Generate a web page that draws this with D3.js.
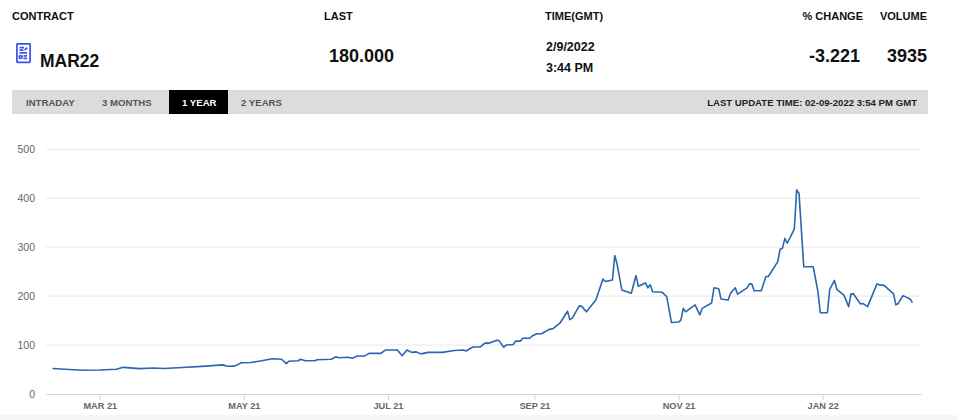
<!DOCTYPE html>
<html>
<head>
<meta charset="utf-8">
<script src="https://cdn.jsdelivr.net/npm/d3@7"></script>
<style>
  body { margin: 0; background: #fff; }
  svg { display: block; font-family: "Liberation Sans", Arial, sans-serif; }
</style>
</head>
<body>
<script>
// header values
var headLabels = ["CONTRACT", "LAST", "TIME(GMT)", "% CHANGE", "VOLUME"];
var contract = "MAR22";
var lastPrice = "180.000";
var timeLines = ["2/9/2022", "3:44 PM"];
var pctChange = "-3.221";
var volume = "3935";
var tabs = ["INTRADAY", "3 MONTHS", "1 YEAR", "2 YEARS"];
var activeTab = "1 YEAR";
var updateText = "LAST UPDATE TIME: 02-09-2022 3:54 PM GMT";

// price series
var dates = [
  "2021-02-09","2021-02-16","2021-02-22","2021-03-01","2021-03-08","2021-03-11","2021-03-18","2021-03-24",
  "2021-03-28","2021-04-05","2021-04-15","2021-04-22","2021-04-24","2021-04-27","2021-04-30","2021-05-04",
  "2021-05-08","2021-05-13","2021-05-17","2021-05-19","2021-05-20","2021-05-24","2021-05-25","2021-05-27",
  "2021-05-31","2021-06-01","2021-06-07","2021-06-09","2021-06-10","2021-06-14","2021-06-16","2021-06-18",
  "2021-06-21","2021-06-23","2021-06-28","2021-06-30","2021-07-05","2021-07-07","2021-07-09","2021-07-11",
  "2021-07-13","2021-07-15","2021-07-18","2021-07-24","2021-07-29","2021-08-02","2021-08-03","2021-08-06",
  "2021-08-09","2021-08-11","2021-08-13","2021-08-16","2021-08-17","2021-08-19","2021-08-20","2021-08-23",
  "2021-08-24","2021-08-26","2021-08-27","2021-08-30","2021-08-31","2021-09-02","2021-09-04","2021-09-07",
  "2021-09-09","2021-09-12","2021-09-15","2021-09-16","2021-09-17","2021-09-20","2021-09-21","2021-09-23",
  "2021-09-27","2021-09-30","2021-10-01","2021-10-04","2021-10-05","2021-10-06","2021-10-08","2021-10-12",
  "2021-10-14","2021-10-15","2021-10-18","2021-10-19","2021-10-20","2021-10-21","2021-10-25","2021-10-27",
  "2021-10-29","2021-11-01","2021-11-02","2021-11-03","2021-11-04","2021-11-08","2021-11-10","2021-11-11",
  "2021-11-15","2021-11-16","2021-11-18","2021-11-19","2021-11-22","2021-11-23","2021-11-25","2021-11-26",
  "2021-11-30","2021-12-01","2021-12-02","2021-12-03","2021-12-06","2021-12-08","2021-12-09","2021-12-13",
  "2021-12-14","2021-12-15","2021-12-16","2021-12-17","2021-12-20","2021-12-21","2021-12-22","2021-12-24",
  "2021-12-28","2021-12-30","2021-12-31","2022-01-03","2022-01-04","2022-01-06","2022-01-07","2022-01-10",
  "2022-01-12","2022-01-13","2022-01-14","2022-01-17","2022-01-18","2022-01-20","2022-01-24","2022-01-25",
  "2022-01-27","2022-01-31","2022-02-01","2022-02-02","2022-02-04","2022-02-07","2022-02-08"
];
var prices = [
  52, 50, 48.5, 49, 50.5, 54.5, 51.8, 53,
  52, 54, 57, 59.5, 56.6, 57, 64, 64.5,
  67.5, 72, 71, 62, 67, 68, 71, 68,
  68, 70, 71, 76, 74, 75, 73, 77.5,
  77.5, 83, 83, 90, 90, 78, 90, 85,
  86, 82, 85, 85, 89, 90, 88, 96,
  96, 104, 104, 110, 109, 95.5, 100, 101,
  108, 108, 114, 114, 118.6, 123, 123, 131.5,
  134, 146, 169, 152, 155, 180, 179, 168,
  192, 235, 230, 233, 283, 265, 212.7, 206,
  242, 220, 227, 217, 223, 209, 208, 199,
  146, 147, 151, 175, 168, 182, 161.5, 175,
  186, 217, 215, 194, 192, 206, 217, 204,
  217, 225, 225, 211, 211, 240, 240, 270.6,
  296, 298, 318, 308, 337, 417, 410, 260,
  260, 209, 166, 166, 214, 232, 214, 202,
  178.5, 204.5, 205, 184, 185, 178.5, 225, 223,
  222, 204.5, 182, 185, 201, 194, 186.7
];
var yTicks = [0, 100, 200, 300, 400, 500];

var W = 958, H = 420;
var svg = d3.select("body").append("svg").attr("width", W).attr("height", H);

// ---- header ----
var headX = [12, 324, 545, 863, 927];
svg.selectAll("text.head").data(headLabels).enter().append("text")
  .attr("class", "head")
  .attr("x", function(d, i) { return headX[i]; })
  .attr("y", 20)
  .attr("text-anchor", function(d, i) { return i >= 3 ? "end" : "start"; })
  .attr("font-size", "11px").attr("font-weight", "bold").attr("fill", "#111")
  .text(function(d) { return d; });

// contract icon
var icon = svg.append("g").attr("transform", "translate(16,43)")
  .attr("fill", "none").attr("stroke", "#3b52ea").attr("stroke-width", 1.7);
icon.append("rect").attr("x", 0.9).attr("y", 0.9).attr("width", 13.2).attr("height", 18.4).attr("rx", 0.6);
icon.append("path").attr("d", "M3.6 4.6H8 M3.6 7.2H7.4 M3.6 9.8H11 M8.6 7.2L11.2 4.6 M7.4 12.8H11 M7.4 15.4H11");
icon.append("circle").attr("cx", 4.6).attr("cy", 14.1).attr("r", 1.4);

svg.append("text").attr("x", 40).attr("y", 67)
  .attr("font-size", "17.5px").attr("font-weight", "bold").attr("fill", "#111").text(contract);
svg.append("text").attr("x", 329).attr("y", 62)
  .attr("font-size", "18px").attr("font-weight", "bold").attr("fill", "#111").text(lastPrice);
svg.selectAll("text.time").data(timeLines).enter().append("text")
  .attr("class", "time").attr("x", 546)
  .attr("y", function(d, i) { return 50.5 + i * 21; })
  .attr("font-size", "12.5px").attr("font-weight", "bold").attr("fill", "#111")
  .text(function(d) { return d; });
svg.append("text").attr("x", 860).attr("y", 62).attr("text-anchor", "end")
  .attr("font-size", "18px").attr("font-weight", "bold").attr("fill", "#111").text(pctChange);
svg.append("text").attr("x", 927).attr("y", 62).attr("text-anchor", "end")
  .attr("font-size", "18px").attr("font-weight", "bold").attr("fill", "#111").text(volume);

// ---- tab bar ----
var tabX = [26, 102, 182, 241];
svg.append("rect").attr("x", 12).attr("y", 90).attr("width", 916).attr("height", 24).attr("fill", "#dcdcdd");
svg.append("rect").attr("x", 169).attr("y", 90).attr("width", 59).attr("height", 24).attr("fill", "#000");
svg.selectAll("text.tab").data(tabs).enter().append("text")
  .attr("class", "tab")
  .attr("x", function(d, i) { return tabX[i]; })
  .attr("y", 105.5)
  .attr("font-size", "9.6px").attr("font-weight", "bold")
  .attr("fill", function(d) { return d === activeTab ? "#fff" : "#555"; })
  .text(function(d) { return d; });
svg.append("text").attr("x", 917).attr("y", 105.5).attr("text-anchor", "end")
  .attr("font-size", "9.6px").attr("font-weight", "bold").attr("fill", "#222").text(updateText);

// ---- chart ----
var parse = d3.utcParse("%Y-%m-%d");
var series = dates.map(function(d, i) { return { date: parse(d), value: prices[i] }; });

var x = d3.scaleUtc()
  .domain([new Date(Date.UTC(2021, 1, 6, 6)), new Date(Date.UTC(2022, 1, 11, 15))])
  .range([46, 921]);
var y = d3.scaleLinear().domain([0, 500]).range([394, 149.3]);

// gridlines
svg.append("g").selectAll("line").data(yTicks.slice(1)).enter().append("line")
  .attr("x1", 46).attr("x2", 921)
  .attr("y1", function(d) { return y(d); }).attr("y2", function(d) { return y(d); })
  .attr("stroke", "#e8e8e8").attr("stroke-width", 1);

// y labels
svg.append("g").selectAll("text").data(yTicks).enter().append("text")
  .attr("x", 35).attr("y", function(d) { return y(d) + 3.6; })
  .attr("text-anchor", "end").attr("font-size", "10.5px").attr("fill", "#666")
  .text(function(d) { return d; });

// x axis
var xAxis = svg.append("g").attr("transform", "translate(0," + y(0) + ")")
  .call(d3.axisBottom(x)
    .ticks(d3.utcMonth.every(2))
    .tickSizeInner(6)
    .tickSizeOuter(0)
    .tickFormat(function(d) { return d3.utcFormat("%b %y")(d).toUpperCase(); }));
xAxis.select(".domain").attr("stroke", "#ccd6eb");
xAxis.selectAll(".tick line").attr("stroke", "#ccd6eb");
xAxis.selectAll(".tick text")
  .attr("y", 8).attr("font-size", "9.2px").attr("font-weight", "bold")
  .attr("font-family", "Liberation Sans, Arial, sans-serif").attr("fill", "#666");

// price line
var line = d3.line()
  .x(function(d) { return x(d.date); })
  .y(function(d) { return y(d.value); });
svg.append("path").datum(series)
  .attr("d", line)
  .attr("fill", "none").attr("stroke", "#2a66b1").attr("stroke-width", 1.6)
  .attr("stroke-linejoin", "round");

// faint strip at bottom
svg.append("rect").attr("x", 0).attr("y", 415).attr("width", W).attr("height", 5).attr("fill", "#f6f6f6");
</script>
</body>
</html>
